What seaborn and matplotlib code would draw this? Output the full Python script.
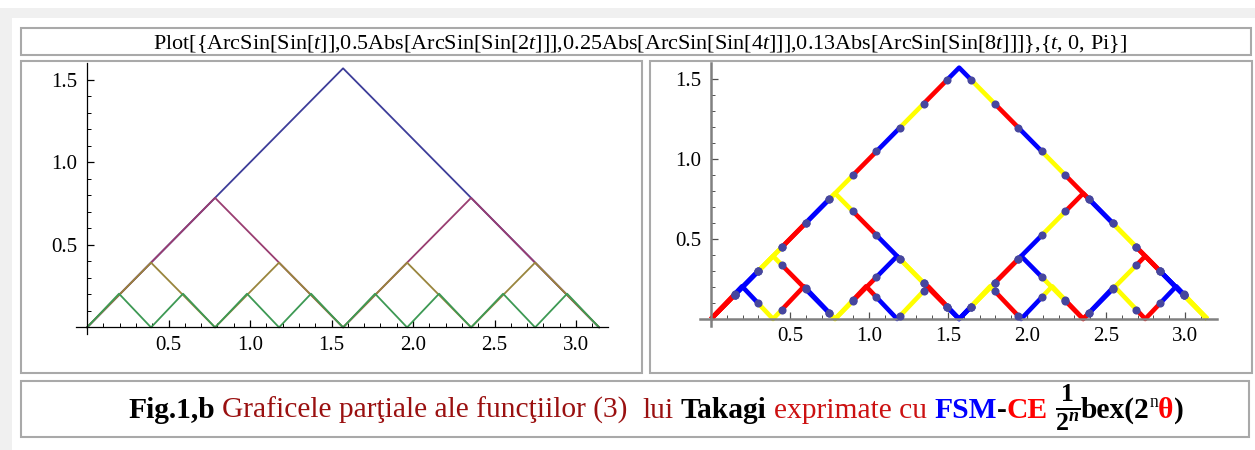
import numpy as np
import pandas as pd
import matplotlib
matplotlib.use("Agg")
import matplotlib.pyplot as plt
from matplotlib.patches import Rectangle
import seaborn as sns

# ---------------------------------------------------------------- data
series_labels = [
    "ArcSin[Sin[t]]",
    "0.5Abs[ArcSin[Sin[2t]]]",
    "0.25Abs[ArcSin[Sin[4t]]]",
    "0.13Abs[ArcSin[Sin[8t]]]",
]
# corner points of each zig-zag curve on 0..Pi
t_arc1 = [0.0, 1.5708, 3.1416]
y_arc1 = [0.0, 1.5708, 0.0]
t_arc2 = [0.0, 0.7854, 1.5708, 2.3562, 3.1416]
y_arc2 = [0.0, 0.7854, 0.0, 0.7854, 0.0]
t_arc4 = [0.0, 0.3927, 0.7854, 1.1781, 1.5708, 1.9635, 2.3562, 2.7489, 3.1416]
y_arc4 = [0.0, 0.3927, 0.0, 0.3927, 0.0, 0.3927, 0.0, 0.3927, 0.0]
t_arc8 = [0.0, 0.1963, 0.3927, 0.5890, 0.7854, 0.9817, 1.1781, 1.3744, 1.5708,
          1.7671, 1.9635, 2.1598, 2.3562, 2.5525, 2.7489, 2.9452, 3.1416]
y_arc8 = [0.0, 0.2042, 0.0, 0.2042, 0.0, 0.2042, 0.0, 0.2042, 0.0,
          0.2042, 0.0, 0.2042, 0.0, 0.2042, 0.0, 0.2042, 0.0]

mesh_divisions = 20            # interior mesh points on 0..Pi
mesh_shading = ["red", "blue", "yellow"]

x_major = [0.5, 1.0, 1.5, 2.0, 2.5, 3.0]
x_labels = ["0.5", "1.0", "1.5", "2.0", "2.5", "3.0"]
y_major = [0.5, 1.0, 1.5]
y_labels = ["0.5", "1.0", "1.5"]

title_text = ("Plot[{ArcSin[Sin[$t$]],0.5Abs[ArcSin[Sin[2$t$]]],0.25Abs[ArcSin[Sin[4$t$]]],"
              "0.13Abs[ArcSin[Sin[8$t$]]]},{$t$, 0, Pi}]")

# ---------------------------------------------------------------- style
sns.set_theme(style="white")
plt.rcParams["font.family"] = ["Liberation Serif", "DejaVu Serif"]
plt.rcParams["mathtext.fontset"] = "custom"
plt.rcParams["mathtext.rm"] = "Liberation Serif"
plt.rcParams["mathtext.it"] = "Liberation Serif:italic"
plt.rcParams["mathtext.bf"] = "Liberation Serif:bold"
plt.rcParams["mathtext.bfit"] = "Liberation Serif:italic:bold"

line_colors = ["#3d3d99", "#993d71", "#99853d", "#3d9954"]
shade_colors = {"red": "#ff0000", "blue": "#0000ff", "yellow": "#ffff00"}
dot_color = "#46469e"
frame_color = "#a9a9a9"

W, H = 1255, 450
fig = plt.figure(figsize=(W / 100, H / 100), dpi=100)
fig.patch.set_facecolor("white")

# page layer in pixel units
bg = fig.add_axes([0, 0, 1, 1])
bg.set_xlim(0, W)
bg.set_ylim(H, 0)
bg.axis("off")
bg.add_patch(Rectangle((0, 8), W, 10, color="#f0f0f0", lw=0))
bg.add_patch(Rectangle((0, 8), 12, H, color="#f0f0f0", lw=0))


def frame(x0, y0, x1, y1):
    bg.add_patch(Rectangle((x0, y0), x1 - x0, y1 - y0, fill=False,
                           ec=frame_color, lw=1.5))


frame(21, 28, 1251, 55)
frame(21, 61, 642, 373)
frame(650, 61, 1252, 373)
frame(21, 381, 1249, 437)


def px_axes(x0, y0, x1, y1):
    a = fig.add_axes([x0 / W, 1 - y1 / H, (x1 - x0) / W, (y1 - y0) / H])
    a.patch.set_alpha(0)
    return a


curves = [(t_arc1, y_arc1), (t_arc2, y_arc2), (t_arc4, y_arc4), (t_arc8, y_arc8)]


def style_axes(ax, xlim, ylim, spine_color, spine_lw, tick_color):
    ax.set_xlim(*xlim)
    ax.set_ylim(*ylim)
    for side in ("top", "right"):
        ax.spines[side].set_visible(False)
    ax.spines["left"].set_position(("data", 0))
    ax.spines["bottom"].set_position(("data", 0))
    for side in ("left", "bottom"):
        ax.spines[side].set_color(spine_color)
        ax.spines[side].set_linewidth(spine_lw)
    ax.set_xticks(x_major)
    ax.set_xticklabels(x_labels)
    ax.set_yticks(y_major)
    ax.set_yticklabels(y_labels)
    xminor = [round(0.1 * i, 1) for i in range(1, 32) if i % 5]
    yminor = [round(0.1 * i, 1) for i in range(1, 16) if i % 5]
    ax.set_xticks(xminor, minor=True)
    ax.set_yticks(yminor, minor=True)
    ax.tick_params(which="major", direction="in", length=5, width=0.9,
                   color=tick_color, labelsize=15, labelcolor="black",
                   bottom=True, left=True)
    ax.tick_params(which="minor", direction="in", length=3, width=0.7,
                   color=tick_color, bottom=True, left=True)
    ax.tick_params(axis="x", which="major", pad=6)
    ax.tick_params(axis="y", which="major", pad=7)
    for lab in ax.get_xticklabels() + ax.get_yticklabels():
        lab.set_fontsize(15)
    ax.set_xlabel("")
    ax.set_ylabel("")
    ax.grid(False)


# ---------------------------------------------------------------- left panel
rows = []
for name, (tv, yv) in zip(series_labels, curves):
    for t_, y_ in zip(tv, yv):
        rows.append({"series": name, "t": t_, "y": y_})
df_left = pd.DataFrame(rows)

axL = px_axes(76, 63, 608, 334)
sns.lineplot(data=df_left, x="t", y="y", hue="series", hue_order=series_labels,
             palette=line_colors, sort=False, estimator=None, lw=1.3,
             legend=False, ax=axL)
style_axes(axL, (-0.0675, 3.196), (-0.04, 1.603), "black", 0.9, "black")

# ---------------------------------------------------------------- right panel
t_end = t_arc1[-1]
edges = np.linspace(0.0, t_end, mesh_divisions + 2)
piece_rows = []
pid = 0
for s, (tv, yv) in enumerate(curves):
    tv = np.asarray(tv)
    yv = np.asarray(yv)
    for k in range(len(edges) - 1):
        a, b = edges[k], edges[k + 1]
        inner = tv[(tv > a) & (tv < b)]
        ts = np.concatenate([[a], inner, [b]])
        ys = np.interp(ts, tv, yv)
        for t_, y_ in zip(ts, ys):
            piece_rows.append({"piece": pid, "shade": mesh_shading[k % 3],
                               "t": t_, "y": y_})
        pid += 1
df_pieces = pd.DataFrame(piece_rows)

mesh_t = edges[1:-1]
dot_rows = []
for tv, yv in curves:
    for t_, y_ in zip(mesh_t, np.interp(mesh_t, tv, yv)):
        dot_rows.append({"t": t_, "y": y_})
df_dots = pd.DataFrame(dot_rows)

axR = px_axes(700, 63, 1217, 326)
sns.lineplot(data=df_pieces, x="t", y="y", hue="shade", units="piece",
             hue_order=mesh_shading, palette=shade_colors, estimator=None,
             sort=False, lw=3.3, legend=False, ax=axR, solid_capstyle="butt")
sns.scatterplot(data=df_dots, x="t", y="y", color=dot_color, s=34,
                linewidth=0, zorder=5, ax=axR)
style_axes(axR, (-0.0696, 3.203), (-0.044, 1.6), "#808080", 1.8, "#505050")
for ax in (axL, axR):
    ax.set_zorder(3)

# ---------------------------------------------------------------- texts
renderer = fig.canvas.get_renderer()

title = bg.text(640, 49, title_text, ha="center", va="baseline",
                fontsize=12, color="black")
tw = title.get_window_extent(renderer).width
title.set_fontsize(12 * 970 / tw)

dark_red = "#9a1010"
soft_red = "#cc1111"
fraction_text = r"$\frac{\mathbf{1}}{\mathbf{2}^{\mathbfit{n}}}$"


def caption(fs):
    fs_px = fs * 100 / 72
    space = 0.25 * fs_px
    base = 418
    x = 128
    made = []

    def put(s, weight="normal", style="normal", color="black", size=fs, dy=0):
        nonlocal x
        t = bg.text(x, base + dy, s, ha="left", va="baseline", fontsize=size,
                    fontweight=weight, fontstyle=style, color=color)
        w = t.get_window_extent(renderer).width
        made.append(t)
        x += w
        return w

    put("Fig.1,b", "bold")
    x += space
    put("Graficele parţiale ale funcţiilor (3)", color=dark_red)
    x += 2 * space
    put("lui", color=dark_red)
    x += space
    put("Takagi", "bold")
    x += space
    put("exprimate cu", color=soft_red)
    x += space
    put("FSM", "bold", color="#0000ff")
    put("-", "bold")
    put("CE", "bold", color="#ff0000")
    x += space
    put(fraction_text, size=fs * 1.25, dy=2)
    put("bex(2", "bold")
    put("n", size=fs * 0.6, dy=-0.38 * fs_px)
    put("θ", "bold", color="#ff0000")
    put(")", "bold")
    return made, x


made, x_end = caption(19)
scale = (1185 - 128) / (x_end - 128)
for t in made:
    t.remove()
caption(19 * scale)

fig.savefig("out.png", dpi=100, facecolor="white")
